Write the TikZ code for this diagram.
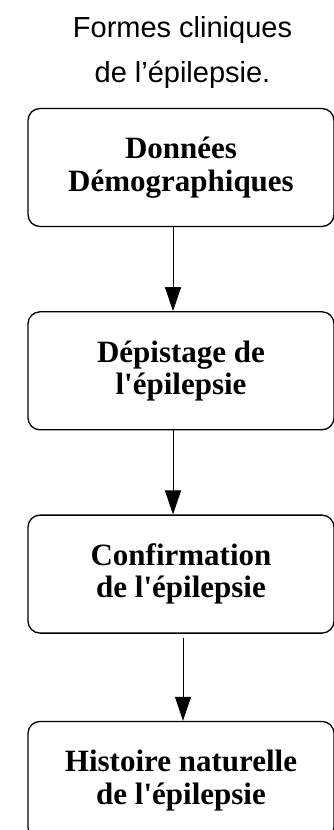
\documentclass[tikz,border=0pt]{standalone}
\usepackage{fontspec}
\usepackage{tikz}
\usetikzlibrary{positioning,arrows.meta}
\newfontfamily\titlefont{Liberation Sans}
\newfontfamily\boxfont{Liberation Serif}
\newcommand{\ap}{\textquotesingle}

\begin{document}
\begin{tikzpicture}[x=1pt,y=1pt,
    etape/.style={draw,line width=1.3pt,rounded corners=12pt,
      minimum width=306pt,minimum height=118pt,align=center,
      font=\boxfont\bfseries\fontsize{31}{32.5}\selectfont},
    fleche/.style={line width=1pt,-{Triangle[length=24pt,width=16pt]}}]
      \useasboundingbox (0,0) rectangle (334,-830);
      \node[align=center,inner sep=0pt,font=\titlefont\fontsize{29}{45}\selectfont]
        (titre) at (182.5,-52) {Formes cliniques\\de l’épilepsie.};
      \node[etape] (demo) at (181,-167.5) {Données\\Démographiques};
      \node[etape,below=84pt of demo] (depist) {Dépistage de\\l\ap épilepsie};
      \node[etape,below=84pt of depist] (confirm) {Confirmation\\de l\ap épilepsie};
      \node[etape,below=87pt of confirm] (histoire) {Histoire naturelle\\de l\ap épilepsie};
      \draw[fleche] ([xshift=-8pt]demo.south) -- ([xshift=-8pt]depist.north);
      \draw[fleche] ([xshift=-8pt]depist.south) -- ([xshift=-8pt]confirm.north);
      \draw[fleche,shorten <=4pt] ([xshift=2pt]confirm.south) -- ([xshift=2pt]histoire.north);
    \end{tikzpicture}
\end{document}
